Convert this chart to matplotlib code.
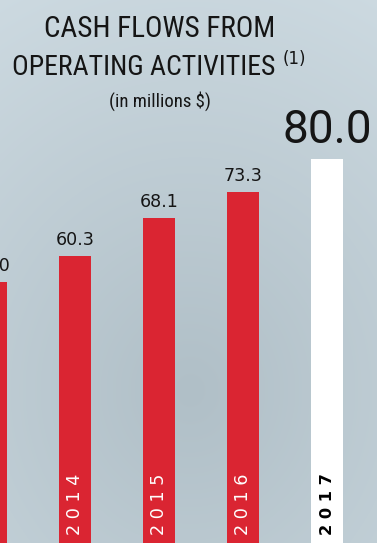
import numpy as np
import matplotlib
matplotlib.use("Agg")
import matplotlib.pyplot as plt
import matplotlib.transforms as mtransforms

# --- DATA ---
years = ['2013', '2014', '2015', '2016', '2017']
values = [55.0, 60.3, 68.1, 73.3, 80.0]
value_labels = ['55.0', '60.3', '68.1', '73.3', '80.0']
highlight = [False, False, False, False, True]

title_lines = ['CASH FLOWS FROM', 'OPERATING ACTIVITIES']
title_note = '(1)'
subtitle = '(in millions $)'

RED = '#da2532'
DARK = '#151515'

W, H = 377, 543
fig = plt.figure(figsize=(W / 100, H / 100), dpi=100)

# --- BACKGROUND (soft radial grey-blue gradient) ---
bg = fig.add_axes([0, 0, 1, 1])
yy, xx = np.mgrid[0:H, 0:W]
d = np.sqrt((xx - 190) ** 2 + ((yy - 390) * 0.9) ** 2) / 420.0
d = np.clip(d, 0, 1)
c_in = np.array([176, 191, 199]) / 255.0
c_out = np.array([206, 219, 226]) / 255.0
img = c_in[None, None, :] * (1 - d[..., None]) + c_out[None, None, :] * d[..., None]
bg.imshow(img, extent=[0, 1, 0, 1], aspect='auto', transform=bg.transAxes)
bg.axis('off')

# --- BARS ---
ax = fig.add_axes([0, 0, 1, 1])
ax.patch.set_alpha(0)
x = np.arange(len(years))
colors = ['white' if h else RED for h in highlight]
ax.bar(x, values, width=0.38, color=colors, bottom=0)
ax.set_xlim(0.107, 4.595)
ax.set_ylim(2.0, 112.4)
ax.axis('off')

for xi, v, lab, h in zip(x, values, value_labels, highlight):
    if h:
        ax.annotate(lab, (xi, v), xytext=(0, 5.5), textcoords='offset points',
                    ha='center', va='bottom', fontsize=33, color=DARK,
                    family=['Roboto', 'DejaVu Sans'], annotation_clip=False)
    else:
        ax.annotate(lab, (xi, v), xytext=(0, 5), textcoords='offset points',
                    ha='center', va='bottom', fontsize=12.6, color=DARK,
                    family='DejaVu Sans', annotation_clip=False)

# year labels inside the bars, rotated (only bars fully in view)
trans = mtransforms.blended_transform_factory(ax.transData, ax.transAxes)
x0, x1 = ax.get_xlim()
for xi, yr, h in zip(x, years, highlight):
    if xi - 0.1 < x0 or xi + 0.1 > x1:
        continue
    ax.text(xi, 8 / H, ' '.join(yr), transform=trans, rotation=90,
            ha='center', va='bottom',
            fontsize=11.7 if h else 12.7,
            fontweight='bold' if h else 'normal',
            color='black' if h else 'white', family='DejaVu Sans')

# --- TITLE ---
narrow = ['Roboto Condensed', 'Roboto', 'DejaVu Sans']
fig.text(160 / W, 1 - 37 / H, title_lines[0], ha='center', va='baseline',
         fontsize=21, color=DARK, family=narrow)
fig.text(144 / W, 1 - 75 / H, title_lines[1], ha='center', va='baseline',
         fontsize=20, color=DARK, family=narrow)
fig.text(283 / W, 1 - 64 / H, title_note, ha='left', va='baseline',
         fontsize=12, color=DARK, family='DejaVu Sans')
fig.text(160 / W, 1 - 107 / H, subtitle, ha='center', va='baseline',
         fontsize=13.5, color=DARK, family=narrow)

fig.savefig('out.png', dpi=100)
